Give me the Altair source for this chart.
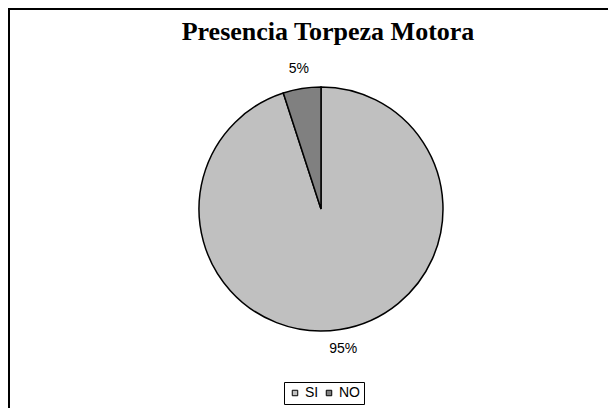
import altair as alt
import pandas as pd

categories = ["SI", "NO"]
values = [95, 5]
labels = ["95%", "5%"]
colors = ["#C0C0C0", "#808080"]
title_text = ["Presencia Torpeza Motora"]

df = pd.DataFrame({"cat": categories, "val": values, "label": labels, "order": [0, 1]})
tdf = pd.DataFrame({"t": title_text})

W, H = 600, 400
cx, cy, R = 313, 201, 122

base = alt.Chart(df).encode(
    theta=alt.Theta("val:Q", stack=True),
    order=alt.Order("order:Q"),
)

pie = base.mark_arc(stroke="black", strokeWidth=1.5, outerRadius=R).encode(
    x=alt.value(cx),
    y=alt.value(cy),
    color=alt.Color(
        "cat:N",
        scale=alt.Scale(domain=categories, range=colors),
        legend=alt.Legend(
            title=None,
            orient="none",
            direction="horizontal",
            legendX=276,
            legendY=374,
            symbolType="square",
            symbolSize=30,
            symbolStrokeColor="black",
            symbolStrokeWidth=1,
            labelFont="Liberation Sans",
            labelFontSize=14,
            labelColor="black",
            strokeColor="black",
            padding=4,
            columnPadding=3,
            labelOffset=3,
        ),
    ),
)

text = base.mark_text(
    radius=R + 20,
    font="Liberation Sans",
    fontSize=14,
    color="black",
).encode(
    x=alt.value(cx),
    y=alt.value(cy),
    text="label:N",
)

title = alt.Chart(tdf).mark_text(
    font="Liberation Serif",
    fontSize=26,
    fontWeight="bold",
    color="black",
    baseline="alphabetic",
    align="center",
).encode(text="t:N", x=alt.value(320), y=alt.value(32))

left_border = alt.Chart(tdf).mark_rule(color="black", strokeWidth=2).encode(
    x=alt.value(1), y=alt.value(0), y2=alt.value(H)
)
top_border = alt.Chart(tdf).mark_rule(color="black", strokeWidth=2).encode(
    x=alt.value(0), x2=alt.value(W), y=alt.value(1)
)

chart = (
    alt.layer(pie, text, title, left_border, top_border)
    .properties(
        width=W,
        height=H,
        autosize=alt.AutoSizeParams(type="none"),
        padding=0,
    )
    .configure_view(stroke=None)
)

chart.save("out.html", embed_options={"renderer": "svg", "actions": False})
